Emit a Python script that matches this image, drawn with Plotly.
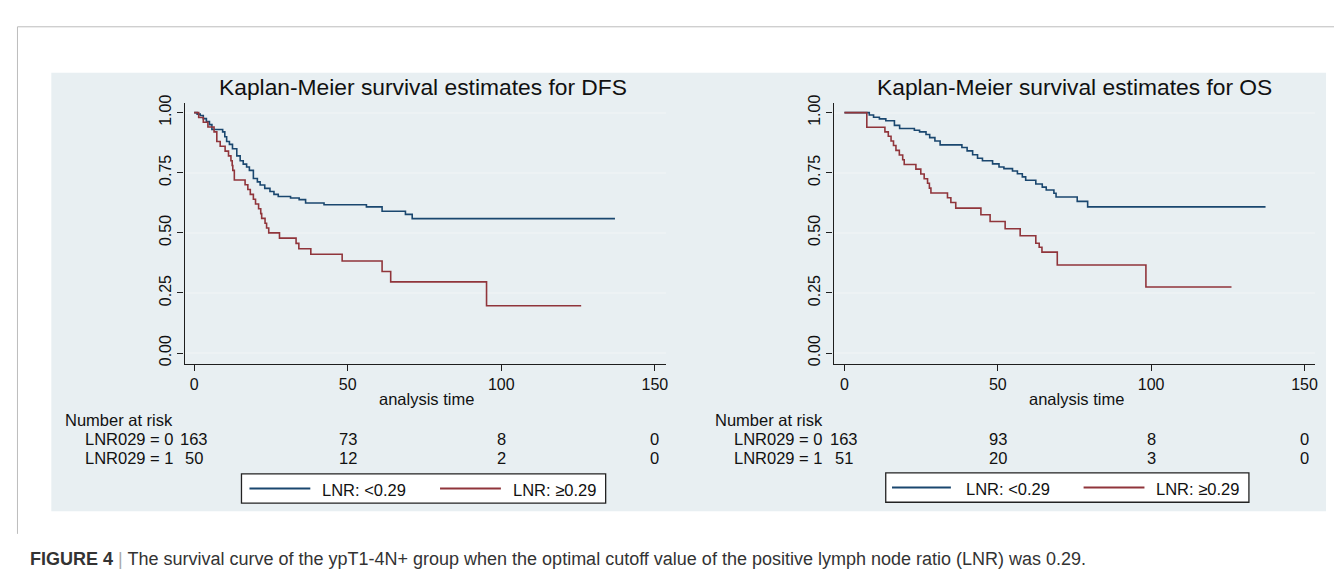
import plotly.graph_objects as go

# ---------------- data ----------------
titles = ["Kaplan-Meier survival estimates for DFS", "Kaplan-Meier survival estimates for OS"]
series_names = ["LNR: <0.29", "LNR: \u22650.29"]
x_label = "analysis time"
x_ticks = [0, 50, 100, 150]
y_ticks = [0, 0.25, 0.5, 0.75, 1.0]
y_ticktext = ["0.00", "0.25", "0.50", "0.75", "1.00"]

# DFS, LNR < 0.29
dfs_lo_t = [0, 1, 2, 3, 4, 5, 5.8, 9.3, 10, 10.6, 11.5, 12.5, 13.9, 15, 16, 17.1, 18, 19.3,
            20.6, 21.5, 23, 24.7, 26, 27.4, 31.4, 34.2, 36.3, 42.3, 56.1, 61.2, 68.8, 71, 137]
dfs_lo_s = [1.0, 0.994, 0.988, 0.975, 0.963, 0.95, 0.93, 0.92, 0.90, 0.88, 0.868, 0.85, 0.82, 0.80,
            0.786, 0.774, 0.76, 0.726, 0.712, 0.699, 0.685, 0.672, 0.66, 0.651, 0.645, 0.638, 0.624,
            0.617, 0.608, 0.59, 0.577, 0.559, 0.559]
# DFS, LNR >= 0.29
dfs_hi_t = [0, 1.5, 3, 4.5, 6.5, 7.4, 8.5, 10.1, 11.2, 12, 12.4, 12.6, 13.1, 16.6, 17.5, 18.3, 19.3,
            20, 21, 21.7, 22, 23.1, 23.6, 24.3, 27.8, 33.2, 34.1, 38, 48.2, 61.2, 64, 95.2, 126]
dfs_hi_s = [1.0, 0.98, 0.96, 0.94, 0.92, 0.88, 0.86, 0.84, 0.82, 0.80, 0.78, 0.76, 0.72, 0.70, 0.68,
            0.66, 0.64, 0.62, 0.60, 0.58, 0.56, 0.54, 0.52, 0.50, 0.478, 0.456, 0.434, 0.411, 0.383,
            0.339, 0.296, 0.197, 0.197]
# OS, LNR < 0.29
os_lo_t = [0, 8.1, 9.5, 11.4, 13.5, 16.3, 18, 22.8, 24.5, 26.6, 27.8, 29.5, 31.2, 38.3, 40, 41.8,
           43.4, 45, 48.3, 50.4, 52, 54.8, 56.4, 58, 59.1, 62.4, 64.5, 65.8, 68.3, 69, 75.9, 79.3, 137.3]
os_lo_s = [1.0, 0.99, 0.981, 0.974, 0.966, 0.947, 0.934, 0.927, 0.92, 0.909, 0.896, 0.882, 0.866,
           0.855, 0.841, 0.825, 0.81, 0.80, 0.787, 0.774, 0.767, 0.757, 0.746, 0.733, 0.719, 0.703,
           0.69, 0.678, 0.665, 0.649, 0.631, 0.608, 0.608]
# OS, LNR >= 0.29
os_hi_t = [0, 7.3, 13.2, 14.3, 15.2, 16, 16.8, 17.9, 19, 19.5, 23.3, 24.9, 26, 27.1, 27.7, 28.2,
           33.6, 34.7, 36.3, 44.5, 47.5, 52.4, 57.3, 62.4, 63.5, 64.4, 69.4, 98.3, 126.2]
os_hi_s = [1.0, 0.939, 0.92, 0.902, 0.882, 0.863, 0.843, 0.824, 0.804, 0.784, 0.765, 0.745, 0.725,
           0.706, 0.686, 0.666, 0.646, 0.626, 0.603, 0.575, 0.547, 0.517, 0.488, 0.457, 0.44, 0.42,
           0.366, 0.275, 0.275]

risk_title = "Number at risk"
risk_labels = ["LNR029 = 0", "LNR029 = 1"]
risk_times = [0, 50, 100, 150]
dfs_risk_0 = [163, 73, 8, 0]
dfs_risk_1 = [50, 12, 2, 0]
os_risk_0 = [163, 93, 8, 0]
os_risk_1 = [51, 20, 3, 0]

caption_bold = "FIGURE 4"
caption_text = ("The survival curve of the ypT1-4N+ group when the optimal cutoff value of the "
                "positive lymph node ratio (LNR) was 0.29.")

# ---------------- styling ----------------
W, H = 1342, 569
FONT = "Liberation Sans, Arial, sans-serif"
BLUE = "#1a476f"
RED = "#90353b"
PANEL_BG = "#e8eff2"
AXIS_C = "#1e1e1e"


def px(x):
    return x / W


def py(y):
    return 1 - y / H


fig = go.Figure()

panels = [
    dict(xa="x", ya="y", dom=(177, 659), t0=186.5, scale=3.079,
         curves=[(dfs_lo_t, dfs_lo_s), (dfs_hi_t, dfs_hi_s)],
         risk=[dfs_risk_0, dfs_risk_1], title_x=416, nar_x=55, lab_x=75,
         leg=(234, 599, 466.7, 496.7), leg_lines=[(242, 303), (433, 494)], leg_text=[313, 504]),
    dict(xa="x2", ya="y2", dom=(827.5, 1310), t0=838.3, scale=3.074,
         curves=[(os_lo_t, os_lo_s), (os_hi_t, os_hi_s)],
         risk=[os_risk_0, os_risk_1], title_x=1069, nar_x=707, lab_x=726,
         leg=(879.7, 1243.7, 465.7, 495.7), leg_lines=[(886, 945), (1078, 1139)], leg_text=[958, 1149]),
]

shapes = []
annotations = []

# panel background & outer frame
shapes.append(dict(type="rect", xref="paper", yref="paper", x0=px(43.4), x1=px(1321),
                   y0=py(505), y1=py(57), fillcolor=PANEL_BG, line=dict(width=0), layer="below"))
shapes.append(dict(type="line", xref="paper", yref="paper", x0=px(9.5), x1=1, y0=py(10), y1=py(10),
                   line=dict(color="#bdbdbd", width=1)))
shapes.append(dict(type="line", xref="paper", yref="paper", x0=px(9.5), x1=px(9.5), y0=py(528), y1=py(10),
                   line=dict(color="#bdbdbd", width=1)))

y_top_px, y_bot_px = 88, 354
y_range = [(343.3 - y_bot_px) / 245.6, (343.3 - y_top_px) / 245.6]

for i, p in enumerate(panels):
    axn = "" if i == 0 else "2"
    x_range = [(p["dom"][0] - p["t0"]) / p["scale"], (p["dom"][1] - p["t0"]) / p["scale"]]
    for j, (t, s) in enumerate(p["curves"]):
        fig.add_trace(go.Scatter(x=t, y=s, mode="lines", line=dict(shape="hv", color=[BLUE, RED][j], width=1.6),
                                 name=series_names[j], showlegend=False, xaxis=p["xa"], yaxis=p["ya"]))
    fig.layout["xaxis" + axn] = dict(
        domain=[px(p["dom"][0]), px(p["dom"][1])], range=x_range, anchor=p["ya"],
        tickvals=x_ticks, ticks="outside", ticklen=6, tickwidth=1.3, tickcolor=AXIS_C,
        showline=True, linecolor=AXIS_C, linewidth=1.4, showgrid=False, zeroline=False,
        tickfont=dict(family=FONT, size=16, color="#111"))
    fig.layout["yaxis" + axn] = dict(
        domain=[py(y_bot_px), py(y_top_px)], range=y_range, anchor=p["xa"],
        tickvals=y_ticks, ticktext=y_ticktext, tickangle=-90, ticks="outside", ticklen=6,
        tickwidth=1.3, tickcolor=AXIS_C, showline=True, linecolor=AXIS_C, linewidth=1.4,
        showgrid=True, gridcolor="#edf2f4", gridwidth=1.5, zeroline=False,
        tickfont=dict(family=FONT, size=16, color="#111"))

    # title
    annotations.append(dict(text=titles[i], x=px(p["title_x"]), y=py(72), xref="paper", yref="paper",
                            xanchor="center", yanchor="middle", showarrow=False,
                            font=dict(family=FONT, size=22.8, color="#111")))
    # x label
    annotations.append(dict(text=x_label, x=sum(x_ticks[1:3]) / 2 + 0.8, y=py(390), xref=p["xa"], yref="paper",
                            xanchor="center", yanchor="middle", showarrow=False,
                            font=dict(family=FONT, size=16.5, color="#111")))
    # number at risk
    annotations.append(dict(text=risk_title, x=px(p["nar_x"]), y=py(412), xref="paper", yref="paper",
                            xanchor="left", yanchor="middle", showarrow=False,
                            font=dict(family=FONT, size=16.5, color="#111")))
    for r, (lab, vals) in enumerate(zip(risk_labels, p["risk"])):
        yy = py(431 + r * 19)
        annotations.append(dict(text=lab, x=px(p["lab_x"]), y=yy, xref="paper", yref="paper",
                                xanchor="left", yanchor="middle", showarrow=False,
                                font=dict(family=FONT, size=16.5, color="#111")))
        for tt, v in zip(risk_times, vals):
            annotations.append(dict(text=str(v), x=tt, y=yy, xref=p["xa"], yref="paper",
                                    xanchor="center", yanchor="middle", showarrow=False,
                                    font=dict(family=FONT, size=16.5, color="#111")))
    # legend box
    lx0, lx1, ly0, ly1 = p["leg"]
    shapes.append(dict(type="rect", xref="paper", yref="paper", x0=px(lx0), x1=px(lx1),
                       y0=py(ly1), y1=py(ly0), fillcolor="white", line=dict(color="#222", width=1.3)))
    ly = (ly0 + ly1) / 2
    for j in range(2):
        a, b = p["leg_lines"][j]
        shapes.append(dict(type="line", xref="paper", yref="paper", x0=px(a), x1=px(b),
                           y0=py(ly), y1=py(ly), line=dict(color=[BLUE, RED][j], width=2)))
        annotations.append(dict(text=series_names[j], x=px(p["leg_text"][j]), y=py(ly + 1), xref="paper",
                                yref="paper", xanchor="left", yanchor="middle", showarrow=False,
                                font=dict(family=FONT, size=16.5, color="#111")))

# caption
annotations.append(dict(
    text=f"<b>{caption_bold}</b> <span style='color:#aaaaaa'>|</span> {caption_text}",
    x=px(21), y=py(554), xref="paper", yref="paper", xanchor="left", yanchor="middle",
    showarrow=False, borderpad=0, font=dict(family=FONT, size=18, color="#333333")))

fig.update_layout(width=W, height=H, margin=dict(l=0, r=0, t=0, b=0),
                  paper_bgcolor="white", plot_bgcolor="white", showlegend=False,
                  shapes=shapes, annotations=annotations)

fig.write_html("out.html")
